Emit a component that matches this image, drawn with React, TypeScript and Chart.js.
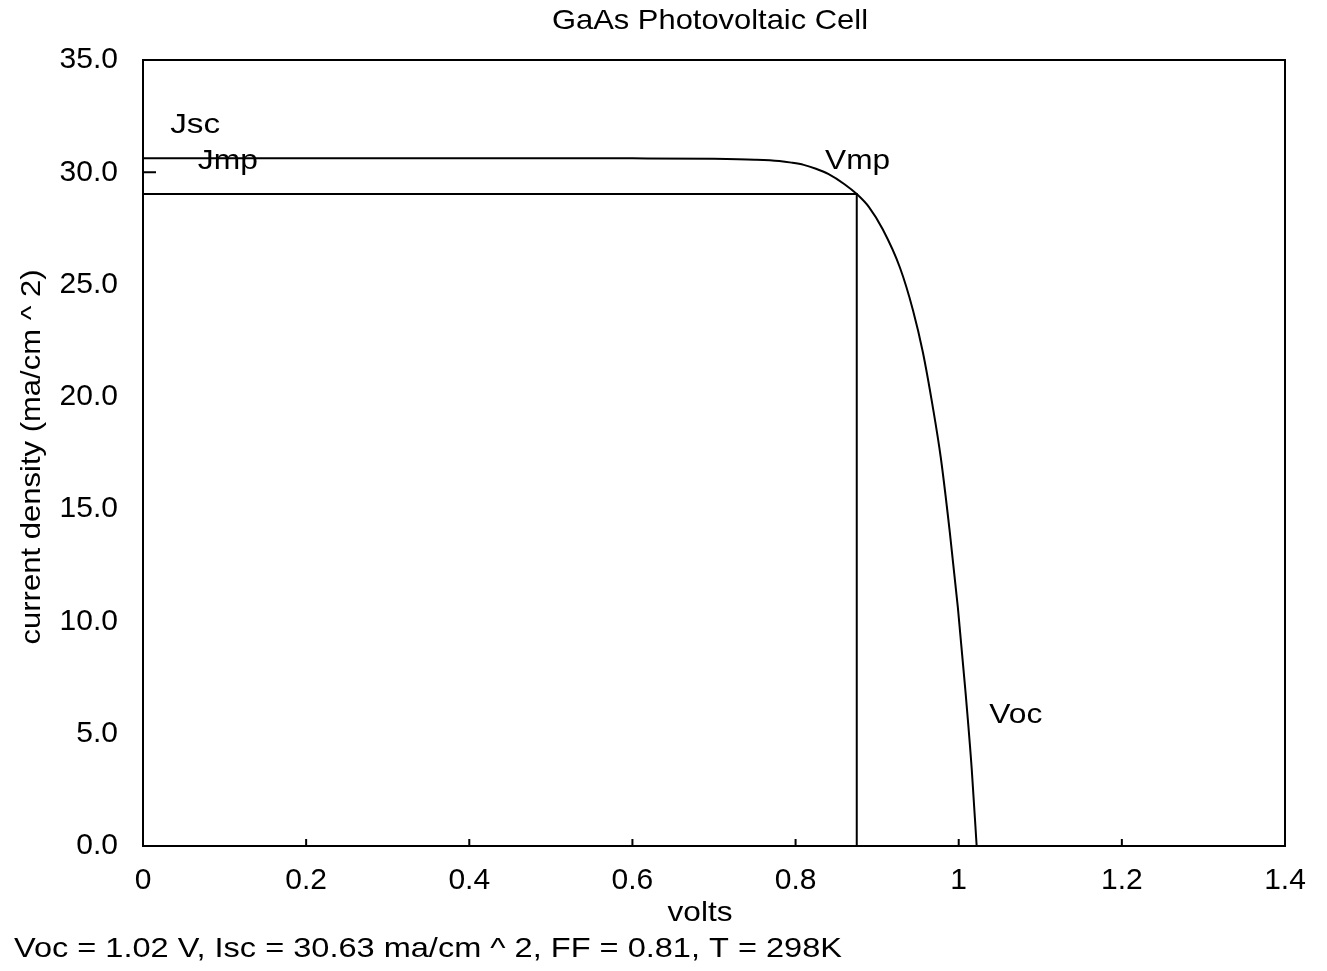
import React, { useEffect, useRef } from "react";
import { Chart, registerables } from "chart.js";

Chart.register(...registerables);

// I-V curve
const voltage = [0, 0.2, 0.4, 0.6, 0.7, 0.75, 0.78, 0.795, 0.81, 0.825, 0.84, 0.86, 0.875, 0.89, 0.907, 0.928, 0.944, 0.956, 0.968, 0.978, 0.989, 0.999, 1.008, 1.016, 1.022];
const currentDensity = [30.63, 30.63, 30.63, 30.62, 30.6, 30.56, 30.5, 30.43, 30.33, 30.16, 29.93, 29.47, 29.03, 28.45, 27.45, 25.75, 23.85, 22.0, 19.6, 17.3, 14.0, 10.6, 7.0, 3.4, 0];

// Maximum power point rectangle
const vmp = 0.875;
const jmp = 29.03;
const mppX = [0, vmp, vmp];
const mppY = [jmp, jmp, 0];

// Point labels (data coordinates)
const labelTexts = ["Jsc", "Jmp", "Vmp", "Voc"];
const labelX = [0.064, 0.104, 0.876, 1.07];
const labelY = [32.1, 30.5, 30.5, 5.83];
const labelWidths = [50, 60, 65, 53];

const xTicks = [0, 0.2, 0.4, 0.6, 0.8, 1, 1.2, 1.4];

const title = "GaAs Photovoltaic Cell";
const xTitle = "volts";
const yTitle = "current density (ma/cm ^ 2)";
const footer = "Voc = 1.02 V, Isc = 30.63 ma/cm ^ 2, FF = 0.81, T = 298K";

const FONT = "'Liberation Sans', Arial, Helvetica, sans-serif";

function fitText(ctx: CanvasRenderingContext2D, text: string, cx: number, cy: number, width: number, size: number, align: "center" | "left" = "center") {
  ctx.save();
  ctx.font = `${size}px ${FONT}`;
  const w = ctx.measureText(text).width;
  const sx = width / w;
  ctx.translate(cx, cy);
  ctx.scale(sx, 1);
  ctx.textAlign = align;
  ctx.textBaseline = "middle";
  ctx.fillStyle = "#000";
  ctx.fillText(text, 0, 0);
  ctx.restore();
}

const decor = {
  id: "decor",
  afterDraw(chart: any) {
    const { ctx, chartArea: a, scales } = chart;
    const xs = scales.x;
    const ys = scales.y;
    ctx.save();
    ctx.strokeStyle = "#000";
    ctx.lineWidth = 2;
    ctx.strokeRect(a.left, a.top, a.right - a.left, a.bottom - a.top);
    // inward ticks
    ctx.beginPath();
    xTicks.slice(1, -1).forEach((v) => {
      const px = xs.getPixelForValue(v);
      ctx.moveTo(px, a.bottom);
      ctx.lineTo(px, a.bottom - 7);
    });
    const py = ys.getPixelForValue(30);
    ctx.moveTo(a.left, py);
    ctx.lineTo(a.left + 13, py);
    ctx.stroke();
    ctx.restore();

    labelTexts.forEach((t, i) => {
      fitText(ctx, t, xs.getPixelForValue(labelX[i]), ys.getPixelForValue(labelY[i]), labelWidths[i], 28);
    });
    fitText(ctx, title, 710, 21, 316, 28);
    fitText(ctx, xTitle, 700, 913, 65, 28);
    fitText(ctx, footer, 14, 949, 828, 28, "left");
    ctx.save();
    ctx.translate(32, 457);
    ctx.rotate(-Math.PI / 2);
    fitText(ctx, yTitle, 0, 0, 375, 28);
    ctx.restore();
  },
};

export default function App() {
  const ref = useRef<HTMLCanvasElement>(null);
  useEffect(() => {
    if (!ref.current) return;
    const chart = new Chart(ref.current, {
      type: "scatter",
      data: {
        datasets: [
          {
            data: voltage.map((v, i) => ({ x: v, y: currentDensity[i] })),
            showLine: true,
            borderColor: "#000",
            borderWidth: 2,
            pointRadius: 0,
            cubicInterpolationMode: "monotone",
          },
          {
            data: mppX.map((v, i) => ({ x: v, y: mppY[i] })),
            showLine: true,
            borderColor: "#000",
            borderWidth: 2,
            pointRadius: 0,
            tension: 0,
          },
        ],
      },
      options: {
        animation: false,
        responsive: false,
        maintainAspectRatio: false,
        layout: { padding: { top: 60, right: 42, left: 0, bottom: 0 } },
        plugins: { legend: { display: false }, title: { display: false }, tooltip: { enabled: false } },
        scales: {
          x: {
            type: "linear",
            min: 0,
            max: 1.4,
            afterBuildTicks: (s: any) => {
              s.ticks = xTicks.map((v) => ({ value: v }));
            },
            afterFit: (s: any) => {
              s.height = 125;
            },
            grid: { display: false, drawTicks: false },
            border: { display: false },
            ticks: {
              color: "#000",
              padding: 17,
              font: { family: FONT, size: 30 },
              maxRotation: 0,
              autoSkip: false,
              callback: (v: any) => String(v),
            },
          },
          y: {
            type: "linear",
            min: 0,
            max: 35,
            afterFit: (s: any) => {
              s.width = 143;
            },
            grid: { display: false, drawTicks: false },
            border: { display: false },
            ticks: {
              stepSize: 5,
              color: "#000",
              padding: 25,
              font: { family: FONT, size: 30 },
              callback: (v: any) => Number(v).toFixed(1),
            },
          },
        },
      },
      plugins: [decor],
    });
    return () => chart.destroy();
  }, []);
  return (
    <div style={{ position: "fixed", left: 0, top: 0, width: 1327, height: 971, background: "#fff" }}>
      <canvas ref={ref} width={1327} height={971} style={{ width: 1327, height: 971 }} />
    </div>
  );
}
